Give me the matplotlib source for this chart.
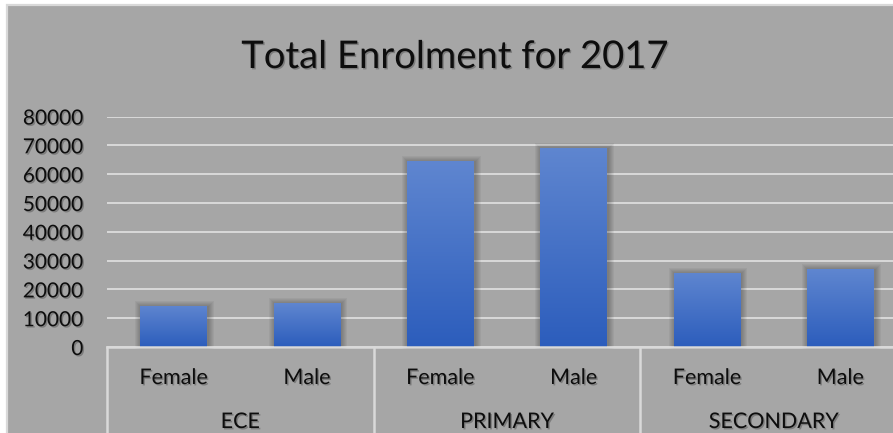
import matplotlib
matplotlib.use("Agg")
import matplotlib.pyplot as plt
import matplotlib.patheffects as pe
from matplotlib.patches import Rectangle
from matplotlib.transforms import blended_transform_factory
import numpy as np

# Enrolment data
levels = ["ECE", "PRIMARY", "SECONDARY"]
genders = ["Female", "Male"]
enrolment = [14400, 15100, 64400, 69200, 25800, 26900]
y_ticks = [0, 10000, 20000, 30000, 40000, 50000, 60000, 70000, 80000]
title = "Total Enrolment for 2017"

BG = "#a6a6a6"
LINE = "#d9d9d9"
TEXT = "#0d0d0d"
FONT = "Lato"

W, H = 893, 433
fig = plt.figure(figsize=(W / 100, H / 100), dpi=100)
fig.patch.set_facecolor("white")

# chart frame
frame = Rectangle((7 / W, -0.02), 1.1, (H - 5) / H + 0.02, transform=fig.transFigure,
                  facecolor=BG, edgecolor=LINE, linewidth=1.6, zorder=-5)
fig.add_artist(frame)

shadow = [pe.SimplePatchShadow(offset=(1, -1), shadow_rgbFace="k", alpha=0.25), pe.Normal()]

ax_left = 107 / W
ax_bottom = (H - 347) / H
ax_top = (H - 116.5) / H
ax_right = 907 / W
ax = fig.add_axes([ax_left, ax_bottom, ax_right - ax_left, ax_top - ax_bottom])
ax.set_zorder(1)
ax.set_facecolor("none")
for s in ax.spines.values():
    s.set_visible(False)

n = len(enrolment)
x = np.arange(n)
ax.set_ylim(0, 80000)
ax.set_yticks(y_ticks)
ax.set_yticklabels([str(v) for v in y_ticks], fontsize=15, color=TEXT, family=FONT)
for lab in ax.get_yticklabels():
    lab.set_path_effects(shadow)
ax.tick_params(axis="y", length=0, pad=17)
ax.set_xticks([])
ax.yaxis.grid(True, color=LINE, linewidth=1.4)
ax.set_axisbelow(True)

bars = ax.bar(x, enrolment, width=0.5, color="#4472c4", zorder=3)

# soft shadow and vertical gradient for each bar
px_x = 1.0 / 133.3          # one pixel in x data units
px_y = 80000 / 230.5        # one pixel in y data units
grad = np.linspace(0, 1, 256).reshape(-1, 1)
top_c = np.array([0x5f, 0x86, 0xd0]) / 255
bot_c = np.array([0x2c, 0x5d, 0xbc]) / 255
img = (bot_c[None, None, :] * (1 - grad[..., None]) + top_c[None, None, :] * grad[..., None])
for b in bars:
    bx, bw, bh = b.get_x(), b.get_width(), b.get_height()
    for k in range(1, 7):
        ax.add_patch(Rectangle((bx - k * px_x + px_x, -2 * px_y),
                               bw + 2 * k * px_x, bh + (k - 1) * px_y + 2 * px_y,
                               facecolor="k", alpha=0.045, linewidth=0, zorder=2,
                               clip_on=False))
    im = ax.imshow(img, extent=(bx, bx + bw, 0, bh), origin="lower", aspect="auto", zorder=4)
    im.set_clip_path(b)
ax.set_aspect("auto")
ax.set_xlim(-0.5, n - 0.5)
ax.set_ylim(0, 80000)

# multi-level category axis
tr = blended_transform_factory(ax.transData, fig.transFigure)
ax.plot([-0.5, n - 0.5], [ax_bottom, ax_bottom], transform=tr, color=LINE,
        linewidth=1.8, clip_on=False, zorder=5)
for i in range(len(levels) + 1):
    xv = -0.5 + 2 * i
    ax.plot([xv, xv], [ax_bottom, -0.01], transform=tr, color=LINE,
            linewidth=1.8, clip_on=False, zorder=5)

gender_y = (H - 378) / H
level_y = (H - 422) / H
for i in range(n):
    ax.text(x[i], gender_y, genders[i % 2], transform=tr, ha="center", va="center",
            fontsize=15.5, color=TEXT, family=FONT, path_effects=shadow)
for j, lev in enumerate(levels):
    ax.text(2 * j + 0.5, level_y, lev, transform=tr, ha="center", va="center",
            fontsize=15.5, color=TEXT, family=FONT, path_effects=shadow)

fig.text(455.5 / W, (H - 68) / H, title, ha="center", va="baseline",
         fontsize=27.5, color=TEXT, family=FONT, path_effects=shadow)

fig.savefig("out.png", dpi=100, facecolor="white")
